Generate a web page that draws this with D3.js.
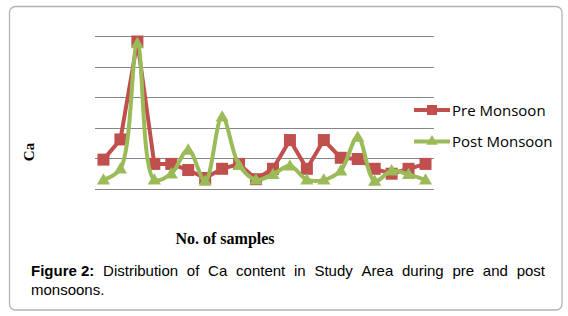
<!DOCTYPE html>
<html>
<head>
<meta charset="utf-8">
<script src="https://cdn.jsdelivr.net/npm/d3@7"></script>
<style>
  body { margin: 0; background: #fff; }
</style>
</head>
<body>
<svg id="chart" width="568" height="316"></svg>
<script>
// sample numbers 1..20 (no labels shown on the axis)
const samples = d3.range(1, 21)
const preMonsoon = [48, 81, 241, 41, 41, 31, 18, 33, 41, 16, 33, 80, 33, 80, 51, 49, 33, 25, 33, 41]
const postMonsoon = [15, 33, 238, 15, 25, 64, 13, 118, 39, 15, 24, 38, 15, 15, 30, 85, 13, 30, 24, 15]
const yTicks = [0, 50, 100, 150, 200, 250]
const seriesNames = ['Pre Monsoon', 'Post Monsoon']
const captionBold = 'Figure 2:'
const captionText = 'Distribution of Ca content in Study Area during pre and post monsoons.'

const svg = d3.select('#chart')

// frame
svg.append('rect')
    .attr('x', 9.5).attr('y', 6.5)
    .attr('width', 552.5).attr('height', 303.5)
    .attr('rx', 6)
    .style('fill', 'none')
    .style('stroke', '#b4b4b4')
    .style('stroke-width', 1.3)

const x = d3.scaleBand()
    .domain(samples)
    .range([95, 434])

const y = d3.scaleLinear()
    .domain([0, 250])
    .range([189, 36])

// gridlines
svg.append('g')
    .selectAll('line')
    .data(yTicks)
    .join('line')
    .attr('x1', 95).attr('x2', 434)
    .attr('y1', d => Math.round(y(d)) + 0.5)
    .attr('y2', d => Math.round(y(d)) + 0.5)
    .style('stroke', '#868686')
    .style('stroke-width', 1.2)

const cx = d => x(d) + x.bandwidth() / 2

const redColor = '#c0504d'
const greenColor = '#9bbb59'

// pre monsoon
const preLine = d3.line()
    .x((d, i) => cx(samples[i]))
    .y(d => y(d))

svg.append('path')
    .datum(preMonsoon)
    .attr('d', preLine)
    .style('fill', 'none')
    .style('stroke', redColor)
    .style('stroke-width', 4)
    .style('stroke-linejoin', 'round')

svg.append('g')
    .selectAll('rect')
    .data(preMonsoon)
    .join('rect')
    .attr('x', (d, i) => cx(samples[i]) - 6)
    .attr('y', d => y(d) - 6)
    .attr('width', 12)
    .attr('height', 12)
    .style('fill', redColor)

// post monsoon
const postLine = d3.line()
    .x((d, i) => cx(samples[i]))
    .y(d => y(d))
    .curve(d3.curveCatmullRom.alpha(0.5))

svg.append('path')
    .datum(postMonsoon)
    .attr('d', postLine)
    .style('fill', 'none')
    .style('stroke', greenColor)
    .style('stroke-width', 4)
    .style('stroke-linejoin', 'round')

const tri = d3.symbol().type(d3.symbolTriangle).size(75)

svg.append('g')
    .selectAll('path')
    .data(postMonsoon)
    .join('path')
    .attr('d', tri)
    .attr('transform', (d, i) => `translate(${cx(samples[i])},${y(d) + 1})`)
    .style('fill', greenColor)

// legend
const legend = svg.append('g')
    .selectAll('g')
    .data(seriesNames)
    .join('g')
    .attr('transform', (d, i) => `translate(414,${110 + i * 31.5})`)

legend.append('line')
    .attr('x1', 0).attr('x2', 36)
    .style('stroke', (d, i) => i === 0 ? redColor : greenColor)
    .style('stroke-width', 4)

legend.append('path')
    .attr('d', (d, i) => i === 0
        ? d3.symbol().type(d3.symbolSquare).size(100)()
        : d3.symbol().type(d3.symbolTriangle).size(55)())
    .attr('transform', 'translate(18,0)')
    .style('fill', (d, i) => i === 0 ? redColor : greenColor)

legend.append('text')
    .attr('x', 38)
    .attr('y', 5.5)
    .text(d => d)
    .style('font-family', '"Open Sans", "Liberation Sans", sans-serif')
    .style('font-size', '15px')
    .style('fill', '#000')

// axis titles
svg.append('text')
    .attr('transform', 'translate(34,152) rotate(-90)')
    .attr('text-anchor', 'middle')
    .text('Ca')
    .style('font-family', '"Liberation Serif", serif')
    .style('font-weight', 'bold')
    .style('font-size', '15px')

svg.append('text')
    .attr('x', 225)
    .attr('y', 244)
    .attr('text-anchor', 'middle')
    .text('No. of samples')
    .style('font-family', '"Liberation Serif", serif')
    .style('font-weight', 'bold')
    .style('font-size', '16px')

// caption, first line justified
const capFont = '"Liberation Sans", Arial, sans-serif'
const capSize = '15px'
const capLeft = 31, capRight = 545
const words = captionText.split(' ')
const firstWords = [captionBold].concat(words.slice(0, words.length - 1))
const lastWord = words[words.length - 1]

const measure = svg.append('g')
const widths = firstWords.map((w, i) => {
    const t = measure.append('text')
        .text(w)
        .style('font-family', capFont)
        .style('font-size', capSize)
        .style('font-weight', i === 0 ? 'bold' : 'normal')
    const len = t.node().getComputedTextLength()
    t.remove()
    return len
})
measure.remove()

const gap = (capRight - capLeft - d3.sum(widths)) / (firstWords.length - 1)
let pos = capLeft
const starts = widths.map(w => { const s = pos; pos += w + gap; return s })

svg.append('g')
    .selectAll('text')
    .data(firstWords)
    .join('text')
    .attr('x', (d, i) => starts[i])
    .attr('y', 276)
    .text(d => d)
    .style('font-family', capFont)
    .style('font-size', capSize)
    .style('font-weight', (d, i) => i === 0 ? 'bold' : 'normal')

svg.append('text')
    .attr('x', capLeft)
    .attr('y', 295)
    .text(lastWord)
    .style('font-family', capFont)
    .style('font-size', capSize)
</script>
</body>
</html>
